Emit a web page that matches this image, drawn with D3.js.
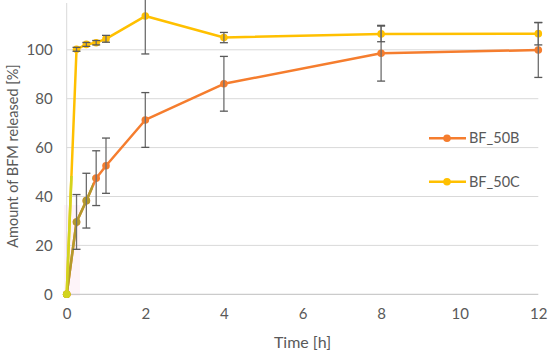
<!DOCTYPE html>
<html><head><meta charset="utf-8">
<script src="https://cdn.jsdelivr.net/npm/d3@7"></script>
<style>body{margin:0;background:#fff}svg{display:block}</style>
</head><body><svg id="c" width="550" height="357"></svg>
<script>
const times = [0, 0.25, 0.5, 0.75, 1, 2, 4, 8, 12];
const seriesNames = ["BF_50B", "BF_50C"];
const valuesB = [0, 29.6, 38.3, 47.5, 52.6, 71.3, 86.1, 98.6, 99.9];
const errorsB = [0, 11.2, 11.2, 11.2, 11.3, 11.2, 11.2, 11.4, 11.2];
const valuesC = [0, 100.2, 102.2, 102.9, 104.5, 113.8, 105.0, 106.5, 106.6];
const errorsC = [0, 0.8, 0.8, 0.9, 1.4, 15.5, 2.1, 3.2, 4.6];
const xTicks = [0, 2, 4, 6, 8, 10, 12];
const yTicks = [0, 20, 40, 60, 80, 100];
const xTitle = "Time [h]";
const yTitle = "Amount of BFM released [%]";

const colors = {BF_50B: "#F57D2E", BF_50C: "#FFC000"};
const altColors = {BF_50B: "#B39A2C", BF_50C: "#D2D41E"};
const font = "Lato, 'Open Sans', sans-serif";
const txt = "#595959";

const svg = d3.select("#c");
const x = d3.scaleLinear().domain([0, 12]).range([66.7, 538.3]);
const y = d3.scaleLinear().domain([0, 120]).range([294.3, 0.9]);

// faint pink artifact
svg.append("rect").attr("x", 64).attr("y", 205).attr("width", 16).attr("height", 91).attr("fill", "#FEF4F9");

// gridlines
svg.append("g").selectAll("line").data(yTicks.filter(d => d > 0)).join("line")
  .attr("x1", x(0)).attr("x2", x(12)).attr("y1", d => y(d)).attr("y2", d => y(d))
  .attr("stroke", "#D9D9D9").attr("stroke-width", 1);
svg.append("line").attr("x1", x(0)).attr("x2", x(0)).attr("y1", 3).attr("y2", y(0))
  .attr("stroke", "#D9D9D9").attr("stroke-width", 1);

// axes
const xAxis = d3.axisBottom(x).tickValues(xTicks).tickSize(0).tickPadding(14);
const gx = svg.append("g").attr("transform", `translate(0,${y(0)})`).call(xAxis);
gx.select(".domain").attr("stroke", "#BFBFBF").attr("d", `M${x(0)},0H${x(12)}`);
gx.selectAll("text").attr("font-family", font).attr("font-size", 15).attr("fill", txt);

const yAxis = d3.axisLeft(y).tickValues(yTicks).tickSize(0).tickPadding(14);
const gy = svg.append("g").attr("transform", `translate(${x(0)},0)`).call(yAxis);
gy.select(".domain").remove();
gy.selectAll("text").attr("font-family", font).attr("font-size", 15).attr("fill", txt);

svg.append("text").attr("x", x(6)).attr("y", 348).attr("text-anchor", "middle")
  .attr("font-family", font).attr("font-size", 16).attr("fill", txt).text(xTitle);
svg.append("text").attr("transform", `translate(18,156) rotate(-90)`).attr("text-anchor", "middle")
  .attr("font-family", font).attr("font-size", 14.5).attr("fill", txt).text(yTitle);

const data = [
  {name: "BF_50B", values: valuesB, errors: errorsB},
  {name: "BF_50C", values: valuesC, errors: errorsC}
];
const line = d3.line().x(d => x(d.t)).y(d => y(d.v));

function drawSeries(g, s, col) {
  const pts = times.map((t, i) => ({t, v: s.values[i]}));
  g.append("path").datum(pts).attr("d", line).attr("fill", "none")
    .attr("stroke", col).attr("stroke-width", 2.5).attr("stroke-linejoin", "round");
  g.selectAll("circle.m").data(pts).join("circle").attr("class", "m")
    .attr("cx", d => x(d.t)).attr("cy", d => y(d.v)).attr("r", 3.8).attr("fill", col);
}

data.forEach(s => drawSeries(svg.append("g"), s, colors[s.name]));

// colour artifact near origin
svg.append("clipPath").attr("id", "art").append("rect").attr("x", 55).attr("y", 176).attr("width", 38).attr("height", 125);
const ag = svg.append("g").attr("clip-path", "url(#art)");
data.forEach(s => drawSeries(ag.append("g"), s, altColors[s.name]));

// error bars
data.forEach(s => {
  const g = svg.append("g");
  times.forEach((t, i) => {
    const e = s.errors[i];
    if (!e) return;
    const cx = x(t), top = Math.max(y(s.values[i] + e), 0), bot = y(s.values[i] - e);
    g.append("line").attr("x1", cx).attr("x2", cx).attr("y1", top).attr("y2", bot).attr("stroke", "#6E6E6E").attr("stroke-width", 1.3);
    if (y(s.values[i] + e) >= 0)
      g.append("line").attr("x1", cx - 4).attr("x2", cx + 4).attr("y1", top).attr("y2", top).attr("stroke", "#595959").attr("stroke-width", 1.3);
    g.append("line").attr("x1", cx - 4).attr("x2", cx + 4).attr("y1", bot).attr("y2", bot).attr("stroke", "#595959").attr("stroke-width", 1.3);
  });
});

// legend
const legY = [138.3, 181.7];
seriesNames.forEach((n, i) => {
  const g = svg.append("g");
  g.append("line").attr("x1", 429).attr("x2", 466).attr("y1", legY[i]).attr("y2", legY[i])
    .attr("stroke", colors[n]).attr("stroke-width", 2.5);
  g.append("circle").attr("cx", 447).attr("cy", legY[i]).attr("r", 3.8).attr("fill", colors[n]);
  g.append("text").attr("x", 469).attr("y", legY[i]).attr("dy", "0.35em")
    .attr("font-family", font).attr("font-size", 14.5).attr("fill", txt).text(n);
});
</script></body></html>
